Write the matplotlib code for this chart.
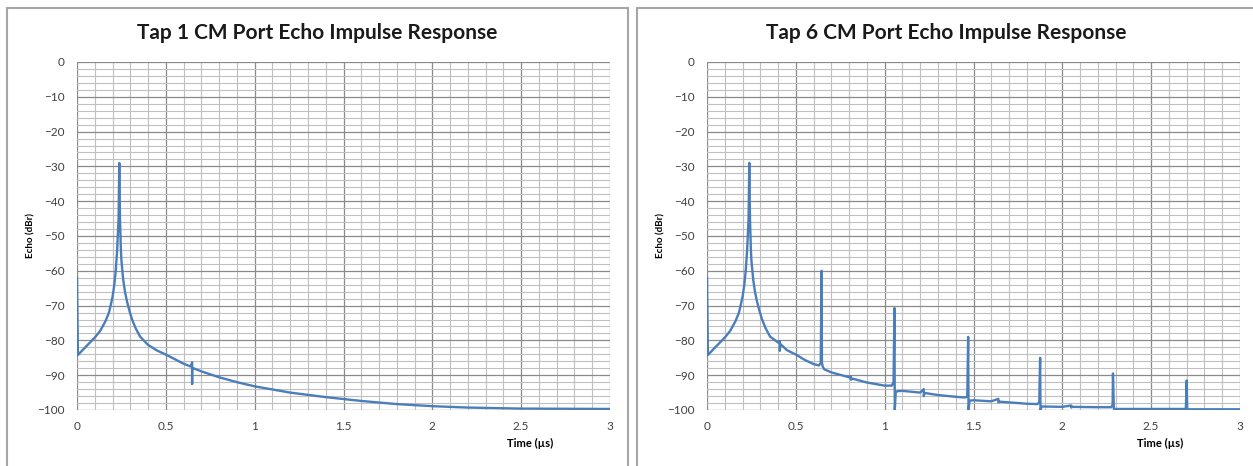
import numpy as np
import matplotlib.pyplot as plt
from matplotlib.patches import Rectangle
from matplotlib.ticker import MultipleLocator

plt.rcParams['font.family'] = ['Lato', 'DejaVu Sans']

# Tap 1
tap1_time = [0, 0.005, 0.05, 0.1, 0.13, 0.16, 0.18, 0.19, 0.2, 0.21, 0.218, 0.226, 0.234, 0.238,
             0.242, 0.247, 0.25, 0.26, 0.27, 0.28, 0.294, 0.31, 0.33, 0.355, 0.4, 0.45, 0.505,
             0.6, 0.64, 0.648, 0.648, 0.648, 0.65, 0.7, 0.8, 0.9, 1.0, 1.2, 1.4, 1.6, 1.8,
             2.0, 2.2, 2.5, 3.0]
tap1_echo = [-62, -84.2, -81.8, -79.2, -77.3, -74.5, -72, -69.8, -67.5, -64, -60, -54, -45, -29,
             -45, -54, -57, -62.5, -66, -68.5, -71.3, -74, -76.5, -78.9, -81.3, -82.9, -84.2,
             -86.7, -87.5, -86.3, -92.5, -87.8, -87.9, -88.9, -90.6, -92, -93.2, -95, -96.3, -97.4, -98.3,
             -98.9, -99.3, -99.6, -99.7]

# Tap 6 -- same main peak plus the echo train
tap6_time = [0, 0.005, 0.05, 0.1, 0.13, 0.16, 0.18, 0.19, 0.2, 0.21, 0.218, 0.226, 0.234, 0.238,
             0.242, 0.247, 0.25, 0.26, 0.27, 0.28, 0.294, 0.31, 0.33, 0.355, 0.4, 0.41, 0.41, 0.412,
             0.45, 0.505, 0.55, 0.6, 0.63, 0.64, 0.645, 0.647, 0.652, 0.66, 0.7,
             0.8, 0.81, 0.81, 0.82, 0.9, 1.0, 1.04, 1.05, 1.055, 1.057, 1.062,
             1.07, 1.1, 1.2, 1.22, 1.22, 1.225, 1.3, 1.4, 1.45, 1.465, 1.47, 1.472,
             1.478, 1.5, 1.6, 1.64, 1.64, 1.645, 1.8, 1.86, 1.87, 1.875, 1.877,
             1.884, 1.9, 2.0, 2.05, 2.05, 2.055, 2.2, 2.275, 2.283, 2.285, 2.29,
             2.5, 2.695, 2.7, 2.703, 3.0]
tap6_echo = [-62, -84.2, -81.8, -79.2, -77.3, -74.5, -72, -69.8, -67.5, -64, -60, -54, -45, -29,
             -45, -54, -57, -62.5, -66, -68.5, -71.3, -74, -76.5, -78.9, -80.6, -80.2, -83, -81,
             -82.8, -84.2, -85.6, -86.8, -87.2, -86.5, -60, -86.5, -87.6, -88.3, -89.2,
             -90.6, -90.4, -91.3, -91, -92.1, -93, -93, -92, -70.7, -100, -95,
             -94.6, -94.5, -95, -94, -96, -95.1, -95.7, -96.2, -96.4, -96.2, -79, -100,
             -97.3, -97.2, -97.5, -96.8, -97.8, -97.6, -98.2, -98.3, -97.8, -85, -100,
             -99, -99, -99.1, -98.7, -99.3, -99.1, -99.2, -99.2, -98.5, -89.5, -99.7,
             -99.7, -99.7, -91.5, -99.8, -99.8]

titles = ['Tap 1 CM Port Echo Impulse Response', 'Tap 6 CM Port Echo Impulse Response']
series = [(tap1_time, tap1_echo), (tap6_time, tap6_echo)]

W, H = 1253, 466
fig = plt.figure(figsize=(W / 100, H / 100), dpi=100)

# panel frames (pixels: x0, x1)
frames = [(7, 628), (637, 1262)]
for x0, x1 in frames:
    fig.patches.append(Rectangle((x0 / W, -0.05), (x1 - x0) / W, (H - 8) / H + 0.05,
                                 transform=fig.transFigure, fill=False,
                                 edgecolor='#a6a6a6', linewidth=1.5))

ax_left = [77, 707]
ax_w = 533
for i in range(2):
    ax = fig.add_axes([ax_left[i] / W, 1 - 410 / H, ax_w / W, 348 / H])
    t, e = series[i]
    ax.plot(t, e, color='#4a7ebb', linewidth=1.7, solid_joinstyle='round')
    ax.set_xlim(0, 3)
    ax.set_ylim(-100, 0)
    ax.xaxis.set_major_locator(MultipleLocator(0.5))
    ax.xaxis.set_minor_locator(MultipleLocator(0.1))
    ax.yaxis.set_major_locator(MultipleLocator(10))
    ax.yaxis.set_minor_locator(MultipleLocator(2))
    ax.set_xticks([0, 0.5, 1, 1.5, 2, 2.5, 3])
    ax.set_xticklabels(['0', '0.5', '1', '1.5', '2', '2.5', '3'])
    ax.grid(which='minor', color='#c0c0c0', linewidth=0.8)
    ax.grid(which='major', color='#8a8a8a', linewidth=0.9)
    ax.set_axisbelow(True)
    for s in ax.spines.values():
        s.set_visible(False)
    ax.tick_params(which='both', length=0, labelsize=8.5, labelcolor='#404040')
    ax.tick_params(axis='y', pad=9)
    ax.tick_params(axis='x', pad=8)
    ax.set_ylabel('Echo (dBr)', fontsize=7, fontweight='bold', labelpad=1)
    ax.text(0.85, -0.095, 'Time (µs)', transform=ax.transAxes, fontsize=8,
            fontweight='bold', ha='center', va='center')
    cx = (frames[i][0] + min(frames[i][1], 1255)) / 2
    fig.text(cx / W, 1 - 33 / H, titles[i], ha='center', va='center',
             fontsize=15, fontweight='bold', color='#1a1a1a')

plt.savefig('out.png', dpi=100)
